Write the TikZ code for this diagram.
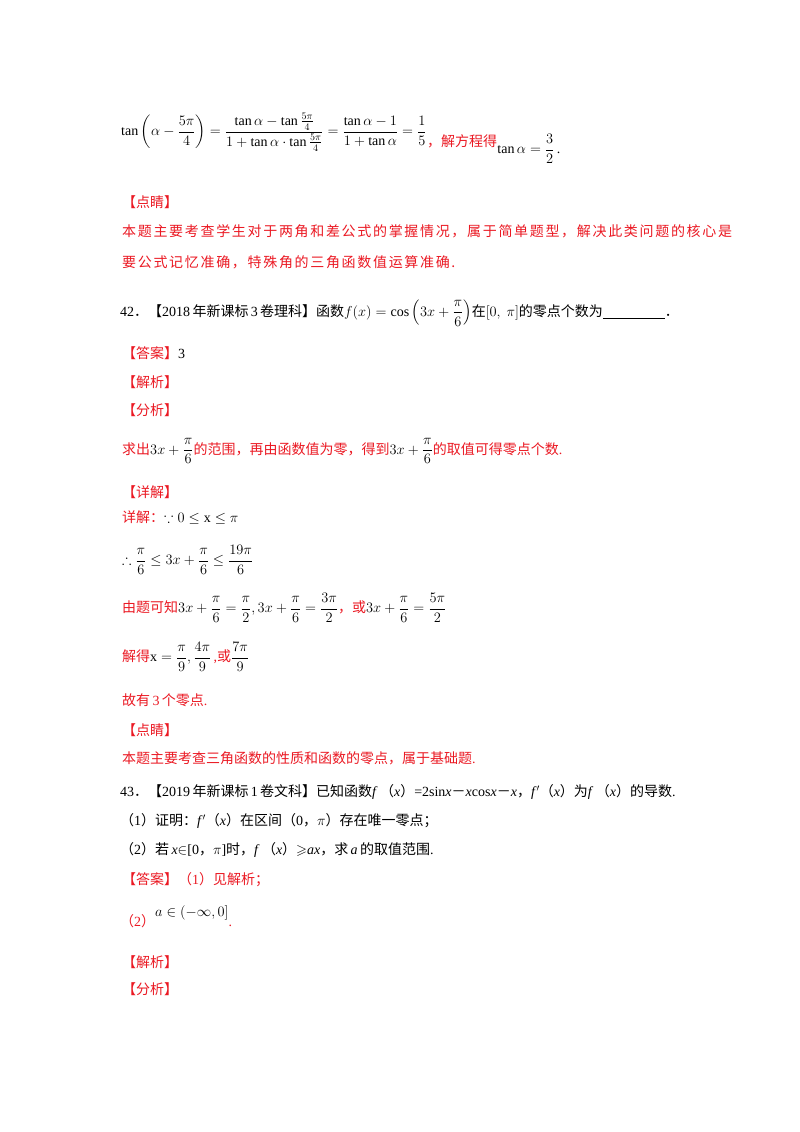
\documentclass[tikz,border=0pt]{standalone}
\usepackage{amsmath,amssymb}
\usepackage{fontspec}
\setmainfont{Liberation Serif}
\newfontfamily\cjk{Noto Sans CJK SC}
\newfontfamily\cjkw[LetterSpace=12]{Noto Sans CJK SC}
\newcommand\zh[1]{{\cjk #1}}
\newcommand\mth{\fontsize{14}{17}\selectfont}
\definecolor{rd}{RGB}{235,25,35}
\begin{document}
\begin{tikzpicture}[x=1pt,y=-1pt,
  every node/.style={anchor=west,inner sep=0pt,font=\fontsize{14}{17}\selectfont},
  red/.style={text=rd},
  mth/.style={font=\mth}]
\useasboundingbox[fill=white] (0,0) rectangle (800,1132);
% top formula
\node[mth] (f1) at (121,132) {$\tan\left(\alpha-\dfrac{5\pi}{4}\right)=\dfrac{\tan\alpha-\tan\frac{5\pi}{4}}{1+\tan\alpha\cdot\tan\frac{5\pi}{4}}=\dfrac{\tan\alpha-1}{1+\tan\alpha}=\dfrac{1}{5}$};
\node[red] (f2) at ([yshift=-9pt]f1.east) {\zh{，解方程得}};
\node[mth] (f3) at ([yshift=-8pt]f2.east) {$\tan\alpha=\dfrac{3}{2}$\,.};
\node[red] (dj1) at (122,202) {\zh{【点睛】}};
\node[red] (dj1a) at (122,231) {\cjkw 本题主要考查学生对于两角和差公式的掌握情况，属于简单题型，解决此类问题的核心是};
\node[red] (dj1b) at (122,262) {\cjkw 要公式记忆准确，特殊角的三角函数值运算准确.};
% 42
\node (q42) at (120,313) {42\zh{．【}2018\,\zh{年新课标}\,3\,\zh{卷理科】函数}{\mth$f(x)=\cos\left(3x+\dfrac{\pi}{6}\right)$}\zh{在}$[0,\ \pi]$\zh{的零点个数为}\underline{\hspace{62pt}}\zh{．}};
\node (da) at (122,353) {\textcolor{rd}{\zh{【答案】}}3};
\node[red] (jx) at (122,382) {\zh{【解析】}};
\node[red] (fx) at (122,410) {\zh{【分析】}};
\node[red] (qc) at (122,451) {\zh{求出}\textcolor{black}{\mth$3x+\dfrac{\pi}{6}$}\zh{的范围，再由函数值为零，得到}\textcolor{black}{\mth$3x+\dfrac{\pi}{6}$}\zh{的取值可得零点个数}.};
\node[red] (xj) at (122,492) {\zh{【详解】}};
\node[red] (xj1) at (122,518) {\zh{详解：}\textcolor{black}{$\because 0\le \mathrm{x}\le \pi$}};
\node[mth] (xj2) at (122,560) {$\therefore\dfrac{\pi}{6}\le 3x+\dfrac{\pi}{6}\le\dfrac{19\pi}{6}$};
\node[red] (xj3) at (122,608) {\zh{由题可知}\textcolor{black}{\mth$3x+\dfrac{\pi}{6}=\dfrac{\pi}{2},3x+\dfrac{\pi}{6}=\dfrac{3\pi}{2}$}\zh{，或}\textcolor{black}{\mth$3x+\dfrac{\pi}{6}=\dfrac{5\pi}{2}$}};
\node[red] (xj4) at (122,657) {\zh{解得}\textcolor{black}{\mth$\mathrm{x}=\dfrac{\pi}{9},\dfrac{4\pi}{9}$}\,,\zh{或}\textcolor{black}{\mth$\dfrac{7\pi}{9}$}};
\node[red] (xj5) at (122,700) {\zh{故有}\,3\,\zh{个零点}.};
\node[red] (dj2) at (122,730) {\zh{【点睛】}};
\node[red] (dj2a) at (122,758) {\zh{本题主要考查三角函数的性质和函数的零点，属于基础题}.};
% 43
\node (q43) at (120,792) {43\zh{．【}2019\,\zh{年新课标}\,1\,\zh{卷文科】已知函数}\textit{f}\,\zh{（}\textit{x}\zh{）}=2sin\textit{x}\zh{－}\textit{x}cos\textit{x}\zh{－}\textit{x}\zh{，}\textit{f}$'$\zh{（}\textit{x}\zh{）为}\textit{f}\,\zh{（}\textit{x}\zh{）的导数}.};
\node (q43a) at (120,821) {\zh{（}1\zh{）证明：}\textit{f}$'$\zh{（}\textit{x}\zh{）在区间（}0\zh{，}$\pi$\zh{）存在唯一零点；}};
\node (q43b) at (120,850) {\zh{（}2\zh{）若}\,\textit{x}$\in$[0\zh{，}$\pi$]\zh{时，}\textit{f}\,\zh{（}\textit{x}\zh{）}$\geqslant$\textit{ax}\zh{，求}\,\textit{a}\,\zh{的取值范围}.};
\node[red] (da2) at (122,880) {\zh{【答案】（}1\zh{）见解析；}};
\node[red] (da3) at (120,917) {\zh{（}2\zh{）}\raisebox{10pt}{\textcolor{black}{\mth$a\in\left(-\infty,0\right]$}}.};
\node[red] (jx2) at (122,962) {\zh{【解析】}};
\node[red] (fx2) at (122,989) {\zh{【分析】}};
\end{tikzpicture}
\end{document}
